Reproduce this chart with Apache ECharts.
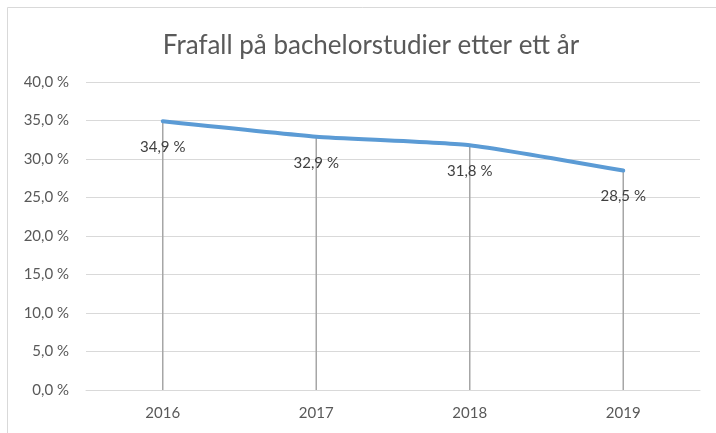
<!DOCTYPE html>
<html><head><meta charset="utf-8">
<script src="https://cdn.jsdelivr.net/npm/echarts@6/dist/echarts.min.js"></script>
<style>html,body{margin:0;padding:0;background:#fff}#c{width:716px;height:433px}</style>
</head><body><div id="c"></div>
<script>
const titleText = "Frafall på bachelorstudier etter ett år";
const categories = ["2016", "2017", "2018", "2019"];
const values = [34.9, 32.9, 31.8, 28.5];
const yTicks = [0, 5, 10, 15, 20, 25, 30, 35, 40];

const fmt = v => v.toFixed(1).replace('.', ',') + ' %';
const FONT = 'Lato';
const chart = echarts.init(document.getElementById('c'), null, {renderer: 'canvas'});
chart.setOption({
  animation: false,
  backgroundColor: '#fff',
  graphic: [{type: 'rect', shape: {x: 7.5, y: 7.5, width: 760, height: 460}, style: {fill: 'none', stroke: '#d9d9d9', lineWidth: 1}, z: 0}],
  title: {text: titleText, left: 366, top: 28, textAlign: 'center',
    textStyle: {fontFamily: FONT, fontSize: 26, fontWeight: 'normal', color: '#595959'}},
  grid: {left: 86, right: 16, top: 82, bottom: 43, containLabel: false},
  xAxis: {type: 'category', data: categories, boundaryGap: true,
    axisLine: {show: true, lineStyle: {color: '#d9d9d9', width: 1}},
    axisTick: {show: false},
    axisLabel: {fontFamily: FONT, fontSize: 15, color: '#595959', margin: 16}},
  yAxis: {type: 'value', min: yTicks[0], max: yTicks[yTicks.length - 1], interval: 5,
    axisLine: {show: false}, axisTick: {show: false},
    splitLine: {lineStyle: {color: '#d9d9d9', width: 1}},
    axisLabel: {fontFamily: FONT, fontSize: 15, color: '#595959', margin: 17,
      formatter: v => fmt(v)}},
  series: [
    {type: 'bar', data: values, barWidth: 1.5, itemStyle: {color: '#a6a6a6'}, silent: true, z: 1},
    {type: 'line', data: values, symbol: 'circle', symbolSize: 1, showSymbol: true, smooth: 0.15,
      itemStyle: {color: '#5b9bd5'},
      lineStyle: {color: '#5b9bd5', width: 4, cap: 'round'}, z: 3,
      label: {show: true, position: 'bottom', distance: 18, fontFamily: FONT, fontSize: 15, color: '#404040',
        formatter: p => fmt(p.value)}}
  ]
});
</script></body></html>
